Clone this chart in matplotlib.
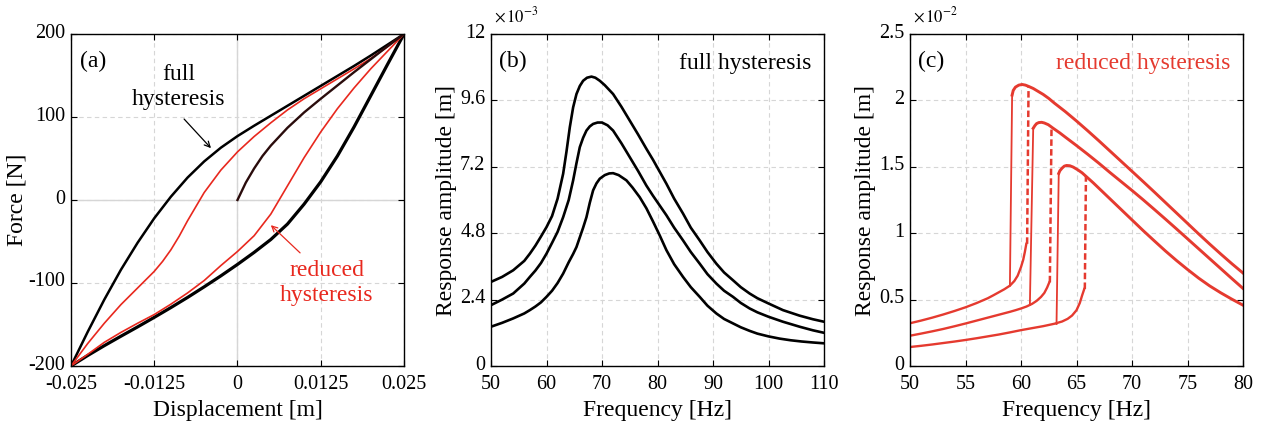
import numpy as np
import matplotlib.pyplot as plt
import matplotlib.transforms as mtransforms
from matplotlib.ticker import FuncFormatter

plt.rcParams['font.family'] = ['Liberation Serif', 'DejaVu Serif']
plt.rcParams['mathtext.fontset'] = 'stix'
plt.rcParams['axes.unicode_minus'] = False

RED_A = '#e8281e'
RED_C = '#e53a2f'
GRID = '#d6d6d6'

# ---- panel (a): force-displacement loops ----
disp = [-0.025, -0.0225, -0.02, -0.0175, -0.015, -0.0125, -0.01, -0.0075, -0.005, -0.0025, 0.0,
        0.0025, 0.005, 0.0075, 0.01, 0.0125, 0.015, 0.0175, 0.02, 0.0225, 0.025]
F_full_up = [-200, -159, -120, -84, -51.5, -22, 4, 27, 46.5, 63, 77, 89.5, 101.5, 113.5, 125.5,
             137.5, 149.5, 161.5, 174, 187, 200]
F_full_lo = [-200, -187.4, -175.5, -164.1, -152.9, -141.4, -129.6, -117.4, -104.6, -91.4, -77.6,
             -63.1, -47.6, -29, -5, 22, 53, 88, 125.5, 163, 200]

x_red_up = [-0.025, -0.0225, -0.02, -0.0175, -0.015, -0.0125, -0.01125, -0.01, -0.00875, -0.0075,
            -0.00625, -0.005, -0.0025, 0.0, 0.0025, 0.005, 0.0075, 0.01, 0.0125, 0.015, 0.0175,
            0.02, 0.0225, 0.025]
F_red_up = [-200, -173, -148.5, -126, -106, -86, -74, -60, -43.5, -25, -8, 9, 36, 58, 76.5, 93,
            108.5, 122, 134, 146, 158, 170.5, 184.5, 200]
F_red_lo = [-200, -186, -171.5, -159.5, -148.5, -138, -125.5, -112, -97, -79, -62, -43, -17, 17,
            51, 82, 110, 135, 158, 179, 200]

x_init = [0.0, 0.00125, 0.0025, 0.00375, 0.005, 0.0075, 0.01, 0.0125, 0.015, 0.0175, 0.02,
          0.0225, 0.025]
F_init = [0, 21, 38, 53, 65.5, 87, 105.5, 122, 138, 154, 169.5, 185, 200]

# ---- panel (b): full hysteresis FRFs (amplitude in 1e-3 m) ----
fb1 = [50, 52, 54, 56, 57, 58, 59, 60, 61, 62, 63, 63.6, 64.2, 64.8, 65.4, 66, 66.6, 67.3, 68.1,
       68.8, 69.6, 70.5, 72, 73.5, 75, 76.5, 78, 79.2, 80.4, 81.6, 83, 84.6, 86, 87.6, 89, 90.6,
       92, 93.6, 95, 96.6, 98, 100, 102.6, 105.6, 108, 110]
ab1 = [3.04, 3.22, 3.46, 3.80, 4.06, 4.35, 4.68, 5.02, 5.42, 6.05, 6.95, 7.75, 8.63, 9.35, 9.83,
       10.12, 10.31, 10.42, 10.46, 10.42, 10.31, 10.15, 9.83, 9.37, 8.87, 8.37, 7.85, 7.45, 7.02,
       6.59, 6.05, 5.51, 5.0, 4.54, 4.12, 3.70, 3.38, 3.10, 2.85, 2.62, 2.45, 2.26, 2.02, 1.82,
       1.69, 1.60]
fb2 = [50, 52, 54, 56, 57, 58, 59, 60, 61, 62, 63, 64, 64.8, 65.4, 66, 66.6, 67.2, 67.8, 68.4,
       69.2, 70, 71, 72, 73.5, 75, 76.5, 78, 79.2, 80.4, 81.6, 83, 84.6, 86, 87.6, 89, 90.6, 92,
       93.6, 95, 96.6, 98, 100, 102.6, 105.6, 108, 110]
ab2 = [2.20, 2.40, 2.62, 2.98, 3.22, 3.45, 3.72, 4.06, 4.45, 4.85, 5.38, 6.0, 6.71, 7.33, 7.91,
       8.25, 8.51, 8.66, 8.75, 8.80, 8.80, 8.70, 8.51, 8.05, 7.55, 7.05, 6.52, 6.15, 5.8, 5.45,
       5.0, 4.54, 4.12, 3.70, 3.32, 2.98, 2.72, 2.50, 2.28, 2.08, 1.94, 1.78, 1.60, 1.42, 1.29,
       1.20]
fb3 = [50, 52, 54, 56, 57, 58, 59, 60, 61, 62, 63, 64, 64.8, 65.4, 66, 66.6, 67.2, 67.8, 68.4,
       69, 69.6, 70.5, 71.3, 72, 73, 74.4, 75.5, 76.8, 78, 79.2, 80.4, 81.6, 83, 84.6, 86, 87.6,
       89, 90.6, 92, 93.6, 95, 96.6, 98, 100, 102, 104, 106, 108, 110]
ab3 = [1.42, 1.56, 1.72, 1.90, 2.02, 2.15, 2.30, 2.50, 2.72, 3.0, 3.34, 3.75, 4.05, 4.30, 4.65,
       5.0, 5.38, 5.9, 6.35, 6.6, 6.77, 6.9, 6.96, 6.97, 6.9, 6.71, 6.45, 6.1, 5.7, 5.22, 4.72,
       4.19, 3.68, 3.22, 2.85, 2.50, 2.18, 1.90, 1.70, 1.54, 1.40, 1.27, 1.17, 1.07, 0.99, 0.93,
       0.885, 0.85, 0.82]

# ---- panel (c): reduced hysteresis FRFs (amplitude in 1e-2 m) ----
fc1_lo = [50, 51, 52, 53, 54, 55, 56, 57, 57.5, 58, 58.5, 59, 59.4, 59.7, 60.0, 60.2, 60.35, 60.48]
ac1_lo = [0.322, 0.342, 0.364, 0.388, 0.414, 0.442, 0.474, 0.51, 0.532, 0.555, 0.578, 0.605,
          0.64, 0.68, 0.745, 0.80, 0.86, 0.92]
fc1_up = [59.2, 59.3, 59.5, 59.8, 60.1, 60.4, 60.7, 61.1, 61.5, 62, 62.5, 63, 64, 65, 66, 67, 68,
          69, 70, 71, 72, 73, 74, 75, 76, 77, 78, 79, 80]
ac1_up = [2.04, 2.075, 2.10, 2.115, 2.12, 2.115, 2.105, 2.09, 2.07, 2.045, 2.015, 1.98, 1.915,
          1.845, 1.772, 1.697, 1.62, 1.543, 1.466, 1.389, 1.311, 1.232, 1.153, 1.074, 0.995,
          0.918, 0.843, 0.77, 0.70]

fc2_lo = [50, 51, 52, 53, 54, 55, 56, 57, 58, 59, 59.5, 60, 60.5, 61, 61.4, 61.8, 62.1, 62.35,
          62.55]
ac2_lo = [0.228, 0.244, 0.261, 0.279, 0.299, 0.32, 0.342, 0.364, 0.386, 0.408, 0.42, 0.433,
          0.448, 0.468, 0.49, 0.52, 0.55, 0.59, 0.63]
fc2_up = [61.1, 61.25, 61.4, 61.6, 61.86, 62.1, 62.46, 62.9, 63.5, 64, 65, 66, 67, 68, 69, 70,
          71, 72, 73, 74, 75, 76, 77, 78, 79, 80]
ac2_up = [1.79, 1.81, 1.825, 1.833, 1.835, 1.83, 1.817, 1.79, 1.755, 1.723, 1.66, 1.595, 1.528,
          1.458, 1.39, 1.322, 1.252, 1.18, 1.107, 1.033, 0.958, 0.883, 0.808, 0.733, 0.658, 0.584]

fc3_lo = [50, 51, 52, 53, 54, 55, 56, 57, 58, 59, 60, 61, 62, 63, 63.7, 64.2, 64.6, 65, 65.3,
          65.5, 65.7]
ac3_lo = [0.143, 0.152, 0.162, 0.173, 0.184, 0.196, 0.209, 0.223, 0.237, 0.253, 0.27, 0.285,
          0.30, 0.318, 0.335, 0.355, 0.38, 0.42, 0.475, 0.53, 0.58]
fc3_up = [63.4, 63.5, 63.7, 63.9, 64.1, 64.4, 64.7, 65.1, 65.5, 65.9, 66.5, 67, 68, 69, 70, 71, 72,
          73, 74, 75, 76, 77, 78, 79, 80]
ac3_up = [1.45, 1.47, 1.49, 1.505, 1.51, 1.508, 1.498, 1.478, 1.455, 1.425, 1.38, 1.34, 1.26,
          1.18, 1.10, 1.02, 0.943, 0.867, 0.795, 0.727, 0.662, 0.603, 0.551, 0.503, 0.458]

# jump-up (solid) and jump-down (dashed) segments: [f_start, f_end], [a_start, a_end]
jumps_solid = [([59.0, 59.2], [0.605, 2.04]), ([60.8, 61.1], [0.46, 1.79]),
               ([63.2, 63.4], [0.316, 1.45])]
jumps_dash = [([60.55, 60.68], [0.92, 2.105]), ([62.6, 62.75], [0.63, 1.80]),
              ([65.75, 65.85], [0.58, 1.43])]

W, H = 1263, 425
fig = plt.figure(figsize=(W / 100, H / 100), dpi=100)
LBL = 17
lift = mtransforms.ScaledTranslation(0, 0.035, fig.dpi_scale_trans)


def make_ax(left):
    ax = fig.add_axes([left / W, (H - 366) / H, 333 / W, 332 / H])
    ax.tick_params(direction='in', top=True, right=True, length=4, width=0.8,
                   labelsize=14.5)
    ax.tick_params(axis='x', pad=6.5)
    ax.tick_params(axis='y', pad=4)
    for s in ax.spines.values():
        s.set_linewidth(1.0)
    ax.grid(True, color=GRID, linestyle=(0, (4, 3)), linewidth=0.8)
    ax.set_axisbelow(True)
    return ax


def lift_yticklabels(ax):
    for lbl in ax.get_yticklabels():
        lbl.set_transform(lbl.get_transform() + lift)


# panel a
ax = make_ax(71)
ax.axhline(0, color=GRID, lw=1.0, zorder=0.5)
ax.axvline(0, color=GRID, lw=1.0, zorder=0.5)
ax.plot(disp, F_full_up, color='black', lw=1.8)
ax.plot(disp, F_full_lo, color='black', lw=2.3)
ax.plot(x_red_up, F_red_up, color=RED_A, lw=1.2)
ax.plot(disp, F_red_lo, color=RED_A, lw=1.2)
ax.plot(x_init, F_init, color='#2a0c0c', lw=1.7)
ax.set_xlim(-0.025, 0.025)
ax.set_ylim(-200, 200)
ax.set_xticks([-0.025, -0.0125, 0, 0.0125, 0.025])
ax.set_xticklabels(['-0.025', '-0.0125', '0', '0.0125', '0.025'])
ax.set_yticks([-200, -100, 0, 100, 200])
lift_yticklabels(ax)
ax.set_xlabel('Displacement [m]', fontsize=LBL, labelpad=4)
ax.set_ylabel('Force [N]', fontsize=LBL, labelpad=1)
ax.text(0.027, 0.95, '(a)', transform=ax.transAxes, ha='left', va='top', fontsize=17)
ax.text(-0.0088, 136, 'full\nhysteresis', ha='center', va='center', fontsize=LBL,
        linespacing=1.25)
ax.annotate('', xy=(-0.0037, 60), xytext=(-0.0083, 100),
            arrowprops=dict(arrowstyle='->', color='black', lw=0.9))
ax.text(0.0134, -100, 'reduced\nhysteresis', ha='center', va='center', fontsize=LBL,
        color=RED_A, linespacing=1.25)
ax.annotate('', xy=(0.0047, -28), xytext=(0.0097, -66),
            arrowprops=dict(arrowstyle='->', color=RED_A, lw=0.9))

# panel b
ax = make_ax(491)
for f, a in [(fb1, ab1), (fb2, ab2), (fb3, ab3)]:
    ax.plot(f, np.array(a) * 1e-3, color='black', lw=1.9)
ax.set_xlim(50, 110)
ax.set_ylim(0, 12e-3)
ax.set_xticks(np.arange(50, 111, 10))
ax.set_yticks(np.arange(0, 12.1e-3, 2.4e-3))
ax.yaxis.set_major_formatter(FuncFormatter(lambda v, p: f'{v * 1e3:g}'))
lift_yticklabels(ax)
ax.set_xlabel('Frequency [Hz]', fontsize=LBL, labelpad=4)
ax.set_ylabel('Response amplitude [m]', fontsize=LBL, labelpad=2)
ax.text(0.01, 1.025, r'$\times\,10^{-3}$', transform=ax.transAxes, ha='left', va='bottom',
        fontsize=12)
ax.text(0.024, 0.95, '(b)', transform=ax.transAxes, ha='left', va='top', fontsize=17)
ax.text(0.963, 0.91, 'full hysteresis', transform=ax.transAxes, ha='right', va='center',
        fontsize=LBL)

# panel c
ax = make_ax(910)
for (fl, al), (fu, au) in [((fc1_lo, ac1_lo), (fc1_up, ac1_up)),
                           ((fc2_lo, ac2_lo), (fc2_up, ac2_up)),
                           ((fc3_lo, ac3_lo), (fc3_up, ac3_up))]:
    ax.plot(fl, np.array(al) * 1e-2, color=RED_C, lw=1.7)
    ax.plot(fu, np.array(au) * 1e-2, color=RED_C, lw=2.1)
for f, a in jumps_solid:
    ax.plot(f, np.array(a) * 1e-2, color=RED_C, lw=1.3)
for f, a in jumps_dash:
    ax.plot(f, np.array(a) * 1e-2, color=RED_C, lw=1.8, linestyle=(0, (2.6, 1.3)))
ax.set_xlim(50, 80)
ax.set_ylim(0, 2.5e-2)
ax.set_xticks(np.arange(50, 81, 5))
ax.set_yticks(np.arange(0, 2.51e-2, 0.5e-2))
ax.yaxis.set_major_formatter(FuncFormatter(lambda v, p: f'{v * 1e2:g}'))
lift_yticklabels(ax)
ax.set_xlabel('Frequency [Hz]', fontsize=LBL, labelpad=4)
ax.set_ylabel('Response amplitude [m]', fontsize=LBL, labelpad=2)
ax.text(0.01, 1.025, r'$\times\,10^{-2}$', transform=ax.transAxes, ha='left', va='bottom',
        fontsize=12)
ax.text(0.024, 0.95, '(c)', transform=ax.transAxes, ha='left', va='top', fontsize=17)
ax.text(0.961, 0.91, 'reduced hysteresis', transform=ax.transAxes, ha='right', va='center',
        fontsize=LBL, color=RED_C)

fig.savefig('out.png', dpi=100)
